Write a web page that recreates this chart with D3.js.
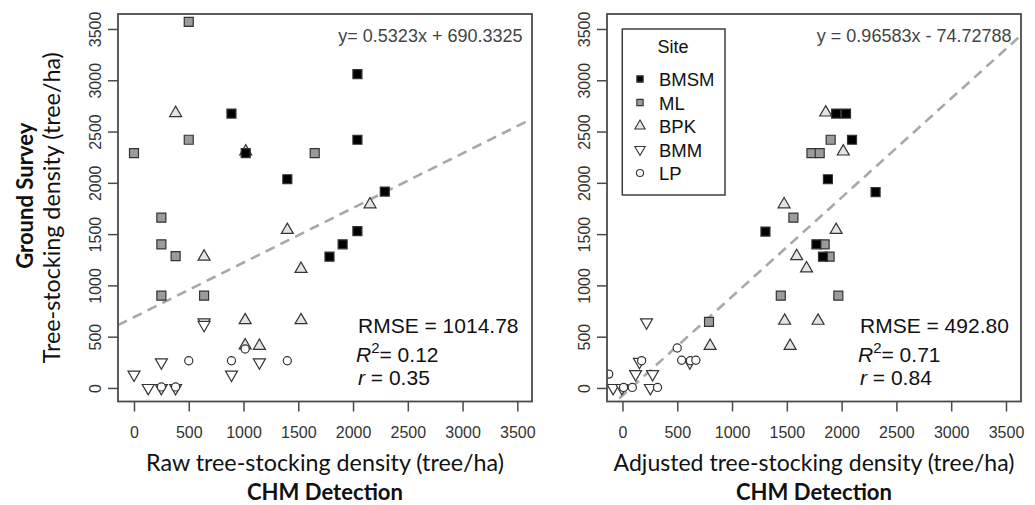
<!DOCTYPE html>
<html><head><meta charset="utf-8">
<script src="https://cdn.jsdelivr.net/npm/d3@7"></script>
<style>body{margin:0;background:#fff} svg{display:block}</style>
</head><body><svg id="c" width="1035" height="505"></svg>
<script>
// ---------------- DATA ----------------
const sites = ["BMSM", "ML", "BPK", "BMM", "LP"];
const axisTicks = [0, 500, 1000, 1500, 2000, 2500, 3000, 3500];

// Raw CHM detection (left panel)
const rawSite = [
  "BPK","BPK","BPK","BPK","BPK","BPK","BPK","BPK","BPK","BPK",
  "ML","ML","ML","ML","ML","ML","ML","ML","ML",
  "BMM","BMM","BMM","BMM","BMM","BMM","BMM","BMM","BMM",
  "LP","LP","LP","LP","LP","LP",
  "BMSM","BMSM","BMSM","BMSM","BMSM","BMSM","BMSM","BMSM","BMSM"
];
const rawX = [
  380, 1020, 2155, 640, 1400, 1525, 1015, 1525, 1015, 1145,
  500, 500, 0, 1650, 250, 250, 380, 250, 640,
  640, 640, 250, 1145, 890, 0, 130, 250, 380,
  500, 890, 1400, 1015, 250, 380,
  890, 1020, 1400, 2040, 2040, 2290, 2040, 1905, 1785
];
const rawY = [
  2680, 2305, 1790, 1280, 1540, 1160, 660, 660, 415, 410,
  3570, 2420, 2290, 2290, 1660, 1400, 1285, 900, 900,
  640, 615, 250, 250, 130, 130, 0, 0, 0,
  265, 265, 265, 380, 10, 10,
  2675, 2290, 2035, 3060, 2420, 1915, 1530, 1400, 1280
];

// Adjusted CHM detection (right panel)
const adjSite = [
  "BPK","BPK","BPK","BPK","BPK","BPK","BPK","BPK","BPK","BPK",
  "ML","ML","ML","ML","ML","ML","ML","ML","ML",
  "BMM","BMM","BMM","BMM","BMM","BMM","BMM","BMM",
  "LP","LP","LP","LP","LP","LP","LP","LP","LP",
  "BMSM","BMSM","BMSM","BMSM","BMSM","BMSM","BMSM","BMSM"
];
const adjX = [
  1855, 2015, 1475, 1950, 1590, 1680, 1480, 1785, 1530, 800,
  1900, 1725, 1800, 1560, 1845, 1890, 1445, 1970, 790,
  220, 155, 615, 120, 275, -85, -5, 255,
  -125, 10, 90, 320, 175, 500, 540, 620, 670,
  1950, 2040, 2095, 1875, 2310, 1305, 1770, 1830
];
const adjY = [
  2685, 2305, 1790, 1540, 1285, 1165, 655, 655, 410, 410,
  2420, 2290, 2290, 1660, 1400, 1280, 900, 900, 645,
  640, 255, 250, 135, 135, 0, 0, 0,
  135, 5, 5, 5, 265, 390, 270, 265, 270,
  2675, 2675, 2420, 2035, 1910, 1525, 1400, 1280
];

const fitRaw = { slope: 0.5323, intercept: 690.3325, label: "y= 0.5323x + 690.3325" };
const fitAdj = { slope: 0.96583, intercept: -74.72788, label: "y = 0.96583x - 74.72788" };
const statsRaw = { rmse: "1014.78", r2: "0.12", r: "0.35" };
const statsAdj = { rmse: "492.80", r2: "0.71", r: "0.84" };

const yTitle = "Tree-stocking density (tree/ha)";
const yTitleBold = "Ground Survey";
const xTitleRaw = "Raw tree-stocking density (tree/ha)";
const xTitleAdj = "Adjusted tree-stocking density (tree/ha)";
const xTitleBold = "CHM Detection";
const legendTitle = "Site";

// ---------------- STYLE ----------------
const siteStyle = {
  BMSM: { type: d3.symbolSquare, size: 81, fill: "#000000", rot: 0 },
  ML:   { type: d3.symbolSquare, size: 81, fill: "#9b9b9b", rot: 0 },
  BPK:  { type: d3.symbolTriangle, size: 62, fill: "#e4e4e4", rot: 0 },
  BMM:  { type: d3.symbolTriangle, size: 62, fill: "#ffffff", rot: 180 },
  LP:   { type: d3.symbolCircle, size: 52, fill: "#ffffff", rot: 0 }
};
const svg = d3.select("#c");
const tickFont = "'Liberation Sans', Arial, sans-serif";
const titleFont = "Lato, 'Open Sans', sans-serif";
const boxColor = "#4a4a4a";

const yScale = d3.scaleLinear().domain([-132, 3646]).range([401.5, 14]);
const xRaw = d3.scaleLinear().domain([-146, 3634]).range([118, 532]);
const xAdj = d3.scaleLinear().domain([-141, 3637]).range([607, 1021]);

function fitWidth(sel, w) {
  const n = sel.node();
  const cur = n.getComputedTextLength();
  const fs = parseFloat(sel.attr("font-size"));
  sel.attr("font-size", (fs * w / cur).toFixed(2));
}

function panel(id, x, xs, ys, ss, fit, stats, xTitle, xTitleW) {
  const [x0, x1] = x.range();
  const [yb, yt] = yScale.range();
  const g = svg.append("g");

  svg.append("clipPath").attr("id", "clip" + id)
    .append("rect").attr("x", x0).attr("y", yt).attr("width", x1 - x0).attr("height", yb - yt);

  const ax = g.append("g").attr("transform", `translate(0,${yb})`)
    .call(d3.axisBottom(x).tickValues(axisTicks).tickSize(10).tickPadding(17).tickFormat(d3.format("d")));
  ax.select(".domain").remove();
  ax.selectAll("line").attr("stroke", boxColor).attr("stroke-width", 1.5);
  ax.selectAll("text").attr("font-family", tickFont).attr("font-size", 16).attr("fill", "#333").attr("dy", null)
    .attr("y", 36.5);

  const ay = g.append("g").attr("transform", `translate(${x0},0)`)
    .call(d3.axisLeft(yScale).tickValues(axisTicks).tickSize(10).tickFormat(d3.format("d")));
  ay.select(".domain").remove();
  ay.selectAll("line").attr("stroke", boxColor).attr("stroke-width", 1.5);
  ay.selectAll("text").attr("font-family", tickFont).attr("font-size", 16).attr("fill", "#333")
    .attr("x", null).attr("dy", null).attr("text-anchor", "middle")
    .attr("transform", "translate(-17,0) rotate(-90)");

  const xd = x.domain();
  g.append("line").attr("clip-path", `url(#clip${id})`)
    .attr("x1", x(xd[0])).attr("y1", yScale(fit.slope * xd[0] + fit.intercept))
    .attr("x2", x(xd[1])).attr("y2", yScale(fit.slope * xd[1] + fit.intercept))
    .attr("stroke", "#a8a8a8").attr("stroke-width", 2.6).attr("stroke-dasharray", "10,6.5");

  const pts = xs.map((v, i) => ({ x: v, y: ys[i], s: ss[i] }));
  g.append("g").attr("clip-path", `url(#clip${id})`).selectAll("path").data(pts).join("path")
    .attr("d", d => d3.symbol().type(siteStyle[d.s].type).size(siteStyle[d.s].size)())
    .attr("transform", d => `translate(${x(d.x)},${yScale(d.y)}) rotate(${siteStyle[d.s].rot})`)
    .attr("fill", d => siteStyle[d.s].fill)
    .attr("stroke", "#333").attr("stroke-width", 1.2);

  g.append("rect").attr("x", x0).attr("y", yt).attr("width", x1 - x0).attr("height", yb - yt)
    .attr("fill", "none").attr("stroke", boxColor).attr("stroke-width", 1.8);

  g.append("text").attr("x", x1 - 9.5).attr("y", 42.3).attr("text-anchor", "end")
    .attr("font-family", tickFont).attr("font-size", 18).attr("fill", "#444").text(fit.label);

  const sx = x0 + (id === "L" ? 240 : 253);
  const st = g.append("g").attr("font-family", tickFont).attr("font-size", 21).attr("fill", "#111");
  st.append("text").attr("x", sx).attr("y", 333.3).text(`RMSE = ${stats.rmse}`);
  const t2 = st.append("text").attr("x", sx - 2).attr("y", 362.3);
  t2.append("tspan").attr("font-style", "italic").text("R");
  t2.append("tspan").attr("font-size", 15).attr("dy", -9).text("2");
  t2.append("tspan").attr("dy", 9).text(`= ${stats.r2}`);
  const t3 = st.append("text").attr("x", sx).attr("y", 385);
  t3.append("tspan").attr("font-style", "italic").text("r");
  t3.append("tspan").text(` = ${stats.r}`);

  const cx = (x0 + x1) / 2;
  const xt = g.append("text").attr("x", cx).attr("y", 471).attr("text-anchor", "middle")
    .attr("font-family", titleFont).attr("font-size", 20).attr("fill", "#111").text(xTitle);
  fitWidth(xt, xTitleW);
  const xb = g.append("text").attr("x", cx).attr("y", 500).attr("text-anchor", "middle")
    .attr("font-family", titleFont).attr("font-weight", "bold").attr("font-size", 20).attr("fill", "#111").text(xTitleBold);
  fitWidth(xb, 156);
  return { titleSize: xt.attr("font-size"), boldSize: xb.attr("font-size") };
}

const res = panel("L", xRaw, rawX, rawY, rawSite, fitRaw, statsRaw, xTitleRaw, 358);
panel("R", xAdj, adjX, adjY, adjSite, fitAdj, statsAdj, xTitleAdj, 401);

const cy = (yScale.range()[0] + yScale.range()[1]) / 2;
svg.append("text").attr("transform", `translate(60,${cy}) rotate(-90)`).attr("text-anchor", "middle")
  .attr("font-family", titleFont).attr("font-size", res.titleSize).attr("fill", "#111").text(yTitle);
svg.append("text").attr("transform", `translate(33,${cy - 12}) rotate(-90)`).attr("text-anchor", "middle")
  .attr("font-family", titleFont).attr("font-weight", "bold").attr("font-size", res.boldSize).attr("fill", "#111").text(yTitleBold);

const lg = svg.append("g");
lg.append("rect").attr("x", 622.3).attr("y", 29).attr("width", 102.7).attr("height", 166)
  .attr("fill", "#fff").attr("stroke", "#333").attr("stroke-width", 1.4);
lg.append("text").attr("x", 673).attr("y", 52.7).attr("text-anchor", "middle")
  .attr("font-family", tickFont).attr("font-size", 18).attr("fill", "#111").text(legendTitle);
const legSym = { BMSM: 40, ML: 40, BPK: 62, BMM: 62, LP: 40 };
sites.forEach((s, i) => {
  const by = 86 + i * 23.5;
  lg.append("path").attr("d", d3.symbol().type(siteStyle[s].type).size(legSym[s] * (s === "BPK" || s === "BMM" ? 0.75 : 1))())
    .attr("transform", `translate(640,${by - 7}) rotate(${siteStyle[s].rot})`)
    .attr("fill", siteStyle[s].fill).attr("stroke", "#333").attr("stroke-width", 1.1);
  lg.append("text").attr("x", 659).attr("y", by)
    .attr("font-family", tickFont).attr("font-size", 18.5).attr("fill", "#111").text(s);
});
</script></body></html>
